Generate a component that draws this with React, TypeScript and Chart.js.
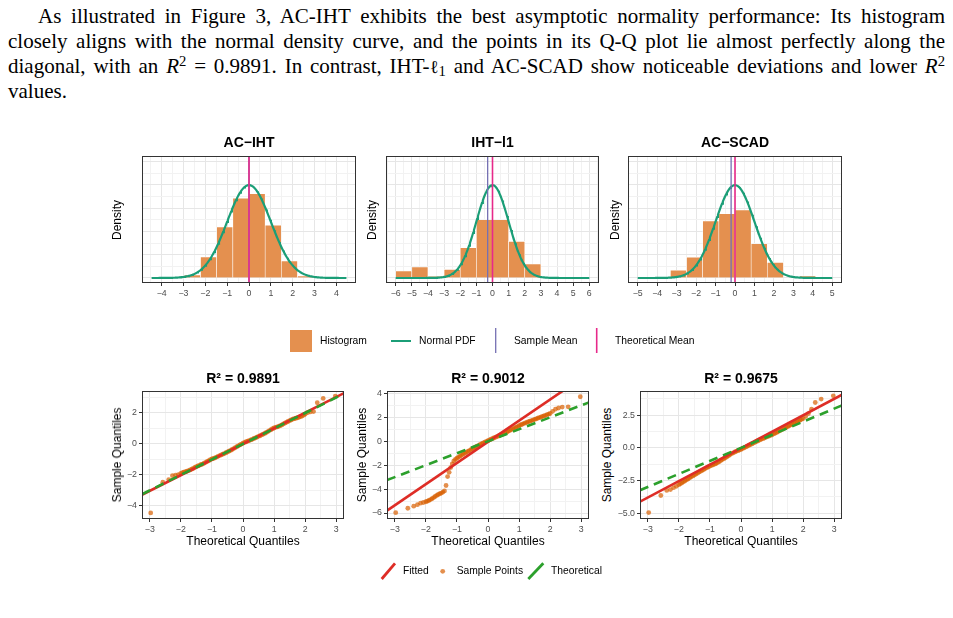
import React, { useEffect, useRef } from 'react';
import { Chart, registerables } from 'chart.js';

Chart.register(...registerables);

const SANS = '"Liberation Sans", Arial, Helvetica, sans-serif';
const SERIF = '"Liberation Serif", "Times New Roman", serif';
Chart.defaults.font.family = SANS;

// ---------------- data ----------------
const methodNames = ['AC\u2212IHT', 'IHT\u2212l1', 'AC\u2212SCAD'];
const r2Labels = ['0.9891', '0.9012', '0.9675'];

// histogram bin centres and densities
const acihtBinCenters = [-2.59, -1.85, -1.11, -0.37, 0.37, 1.11, 1.85, 2.59];
const acihtDensity = [0.013, 0.09, 0.219, 0.343, 0.362, 0.227, 0.073, 0.009];
const ihtl1BinCenters = [-5.5, -4.5, -3.5, -2.5, -1.5, -0.5, 0.5, 1.5, 2.5];
const ihtl1Density = [0.03, 0.047, 0.007, 0.037, 0.13, 0.25, 0.25, 0.157, 0.06];
const acscadBinCenters = [-2.905, -2.075, -1.245, -0.415, 0.415, 1.245, 2.075, 2.905, 3.735];
const acscadDensity = [0.033, 0.089, 0.245, 0.276, 0.292, 0.147, 0.067, 0, 0.009];

const histBinCenters = [acihtBinCenters, ihtl1BinCenters, acscadBinCenters];
const histDensities = [acihtDensity, ihtl1Density, acscadDensity];

const sampleMeans = [0.0, -0.3, -0.2];
const theoreticalMean = 0;
const theoreticalSd = 1;
const curveHalfRanges = [4.46, 6.0, 5.0];

const histXTicks = [
  [-4, -3, -2, -1, 0, 1, 2, 3, 4],
  [-6, -5, -4, -3, -2, -1, 0, 1, 2, 3, 4, 5, 6],
  [-5, -4, -3, -2, -1, 0, 1, 2, 3, 4, 5],
];
const histYTicks = [0, 0.1, 0.2, 0.3, 0.4, 0.5];

// Q-Q plot values (theoretical quantile -> sample quantile)
const theoreticalQuantiles = [
  -2.97, -2.58, -2.39, -2.27, -2.17, -2.08,
  -2.0, -1.95, -1.9, -1.85, -1.8, -1.75, -1.7, -1.65, -1.6, -1.55,
  -1.5, -1.45, -1.4, -1.35, -1.3, -1.25, -1.2, -1.15, -1.1, -1.05,
  -1.0, -0.95, -0.9, -0.85, -0.8, -0.75, -0.7, -0.65, -0.6, -0.55,
  -0.5, -0.45, -0.4, -0.35, -0.3, -0.25, -0.2, -0.15, -0.1, -0.05,
  0.0, 0.05, 0.1, 0.15, 0.2, 0.25, 0.3, 0.35, 0.4, 0.45,
  0.5, 0.55, 0.6, 0.65, 0.7, 0.75, 0.8, 0.85, 0.9, 0.95,
  1.0, 1.05, 1.1, 1.15, 1.2, 1.25, 1.3, 1.35, 1.4, 1.45,
  1.5, 1.55, 1.6, 1.65, 1.7, 1.75, 1.8, 1.85, 1.9, 1.95,
  2.0,
  2.08, 2.17, 2.27, 2.39, 2.58, 2.97,
];
const acihtSampleQ = [
  -4.46, -2.47, -2.3, -2.05, -2.02, -1.98,
  -1.9, -1.86, -1.82, -1.79, -1.76, -1.72, -1.68, -1.63, -1.58, -1.52,
  -1.47, -1.42, -1.38, -1.33, -1.3, -1.24, -1.19, -1.13, -1.08, -1.02,
  -0.97, -0.94, -0.9, -0.85, -0.8, -0.75, -0.71, -0.66, -0.62, -0.57,
  -0.52, -0.47, -0.42, -0.36, -0.3, -0.24, -0.18, -0.12, -0.06, -0.01,
  0.05, 0.1, 0.14, 0.18, 0.22, 0.26, 0.3, 0.35, 0.39, 0.44,
  0.49, 0.53, 0.58, 0.63, 0.68, 0.74, 0.8, 0.86, 0.92, 0.98,
  1.03, 1.07, 1.1, 1.14, 1.18, 1.23, 1.29, 1.35, 1.4, 1.45,
  1.5, 1.55, 1.6, 1.63, 1.66, 1.69, 1.72, 1.76, 1.8, 1.86,
  1.92,
  2.02, 2.07, 2.09, 2.66, 2.94, 3.09,
];
const ihtl1SampleQ = [
  -5.97, -5.6, -5.43, -5.3, -5.18, -5.12,
  -5.06, -5.01, -4.95, -4.88, -4.8, -4.71, -4.62, -4.53, -4.45, -4.39,
  -4.33, -4.25, -4.15, -3.7, -2.95, -2.6, -2.2, -1.9, -1.65, -1.52,
  -1.42, -1.33, -1.25, -1.16, -1.08, -1.0, -0.93, -0.85, -0.78, -0.7,
  -0.62, -0.55, -0.48, -0.41, -0.34, -0.27, -0.2, -0.13, -0.07, -0.01,
  0.05, 0.11, 0.17, 0.23, 0.29, 0.34, 0.4, 0.46, 0.52, 0.57,
  0.63, 0.69, 0.76, 0.83, 0.9, 0.97, 1.04, 1.1, 1.17, 1.23,
  1.3, 1.36, 1.42, 1.48, 1.53, 1.58, 1.63, 1.68, 1.73, 1.77,
  1.82, 1.87, 1.92, 1.97, 2.02, 2.07, 2.12, 2.17, 2.22, 2.27,
  2.32,
  2.5, 2.68, 2.78, 2.86, 2.88, 3.72,
];
const acscadSampleQ = [
  -4.96, -3.65, -3.26, -3.2, -3.05, -2.95,
  -2.82, -2.75, -2.68, -2.6, -2.52, -2.45, -2.38, -2.3, -2.22, -2.15,
  -2.08, -2.01, -1.94, -1.86, -1.8, -1.73, -1.66, -1.59, -1.52, -1.46,
  -1.4, -1.35, -1.3, -1.25, -1.2, -1.13, -1.06, -0.98, -0.9, -0.83,
  -0.76, -0.68, -0.6, -0.52, -0.44, -0.38, -0.32, -0.27, -0.22, -0.17,
  -0.12, -0.06, 0.0, 0.06, 0.12, 0.18, 0.24, 0.3, 0.36, 0.42,
  0.48, 0.54, 0.6, 0.65, 0.7, 0.75, 0.8, 0.85, 0.9, 0.95,
  1.0, 1.06, 1.12, 1.18, 1.25, 1.31, 1.38, 1.44, 1.5, 1.56,
  1.62, 1.68, 1.75, 1.81, 1.88, 1.94, 2.0, 2.06, 2.12, 2.18,
  2.24,
  2.4, 2.62, 2.96, 3.47, 3.73, 3.98,
];
const qqSample = [acihtSampleQ, ihtl1SampleQ, acscadSampleQ];
const fittedSlopes = [1.01, 1.77, 1.26];
const fittedIntercepts = [0.0, -0.05, -0.03];

const qqXTicks = [-3, -2, -1, 0, 1, 2, 3];
const qqYTicks = [
  [-4, -2, 0, 2],
  [-6, -4, -2, 0, 2, 4],
  [-5, -2.5, 0, 2.5],
];
const qqYDecimals = [0, 0, 1];

// ---------------- layout & style ----------------
const histRects = [
  { l: 142, t: 156, w: 214, h: 127 },
  { l: 386, t: 156, w: 213, h: 127 },
  { l: 628, t: 156, w: 214, h: 127 },
];
const histXHalf = [4.9, 6.6, 5.5];
const histYMin = -0.0215;
const histYMax = 0.524;
const densityLabelX = [117, 372, 615];

const qqRects = [
  { l: 142, t: 391, w: 202, h: 128 },
  { l: 387, t: 391, w: 202, h: 128 },
  { l: 640, t: 391, w: 202, h: 128 },
];
const qqXMin = -3.25;
const qqXMax = 3.25;
const qqYLimits = [
  [-4.85, 3.42],
  [-6.5, 4.2],
  [-5.45, 4.35],
];
const sampleQLabelX = [117, 362, 607];

const PAD = { top: 8, right: 10, bottom: 2, left: 2 };
const Y_W = 24;
const X_H = 20;

const GRID_MAJOR = '#E6E6E6';
const GRID_MINOR = '#F2F2F2';
const TICK_TEXT = '#4D4D4D';
const HIST_FILL = '#E4904F';
const CURVE = '#1B9E77';
const PURPLE = '#7570B3';
const PINK = '#E7298A';
const POINT = 'rgba(217,95,2,0.7)';
const RED = '#DE2D26';
const GREEN = '#2CA02C';

function fmt(v: number, dec: number) {
  const s = Math.abs(v).toFixed(dec);
  return v < -1e-9 ? '\u2212' + s : s;
}

function minorTicks(majors: number[], lo: number, hi: number) {
  const step = majors[1] - majors[0];
  const out: number[] = [];
  for (let k = -1; k < majors.length; k++) {
    const v = majors[0] + step * (k + 0.5);
    if (v > lo + 1e-9 && v < hi - 1e-9) out.push(v);
  }
  return out;
}

function axisOpts(
  majors: number[],
  lo: number,
  hi: number,
  horizontal: boolean,
  showLabels: boolean,
  dec: number
) {
  const minors = minorTicks(majors, lo, hi);
  const all = [...majors, ...minors].sort((a, b) => a - b);
  const isMajor = (v: number) => majors.some((m) => Math.abs(m - v) < 1e-9);
  return {
    type: 'linear',
    min: lo,
    max: hi,
    offset: false,
    afterBuildTicks: (s: any) => {
      s.ticks = all.map((v) => ({ value: v }));
    },
    afterFit: (s: any) => {
      if (horizontal) s.height = X_H;
      else s.width = Y_W;
    },
    ticks: {
      display: showLabels,
      autoSkip: false,
      maxRotation: 0,
      minRotation: 0,
      padding: 2,
      color: TICK_TEXT,
      font: { size: 8.8, family: SANS },
      callback: (v: any) => (isMajor(Number(v)) ? fmt(Number(v), dec) : ''),
    },
    grid: {
      offset: false,
      lineWidth: 1,
      drawTicks: showLabels,
      tickLength: 3,
      tickWidth: 1,
      color: (ctx: any) => (ctx.tick && !isMajor(ctx.tick.value) ? GRID_MINOR : GRID_MAJOR),
      tickColor: (ctx: any) => (ctx.tick && isMajor(ctx.tick.value) ? '#333333' : 'rgba(0,0,0,0)'),
    },
    border: { display: false },
  };
}

const framePlugin = {
  id: 'panelFrame',
  afterDraw(chart: any) {
    const { ctx, chartArea: a } = chart;
    ctx.save();
    ctx.strokeStyle = '#333333';
    ctx.lineWidth = 1;
    const l = Math.round(a.left) + 0.5;
    const t = Math.round(a.top) + 0.5;
    const r = Math.round(a.right) - 0.5;
    const b = Math.round(a.bottom) - 0.5;
    ctx.strokeRect(l, t, r - l, b - t);
    ctx.restore();
  },
};

const commonOptions = {
  responsive: false,
  maintainAspectRatio: false,
  animation: false,
  events: [],
  layout: { padding: PAD },
  plugins: { legend: { display: false }, tooltip: { enabled: false }, title: { display: false } },
};

function dnorm(x: number, m: number, s: number) {
  return Math.exp(-0.5 * ((x - m) / s) ** 2) / (s * Math.sqrt(2 * Math.PI));
}

function histConfig(i: number) {
  const centers = histBinCenters[i];
  const dens = histDensities[i];
  const lim = curveHalfRanges[i];
  const curve: { x: number; y: number }[] = [];
  const n = 240;
  for (let k = 0; k <= n; k++) {
    const x = -lim + (2 * lim * k) / n;
    curve.push({ x, y: dnorm(x, theoreticalMean, theoreticalSd) });
  }
  const half = histXHalf[i];
  return {
    type: 'bar',
    data: {
      datasets: [
        {
          type: 'bar',
          data: centers.map((c, k) => ({ x: c, y: dens[k] })),
          xAxisID: 'xb',
          yAxisID: 'y',
          backgroundColor: HIST_FILL,
          borderColor: '#FFFFFF',
          borderWidth: { left: 0.6, right: 0.6, top: 0.6, bottom: 0 },
          borderSkipped: false,
          grouped: false,
          barPercentage: 1,
          categoryPercentage: 1,
          order: 4,
        },
        {
          type: 'line',
          data: curve,
          xAxisID: 'x',
          yAxisID: 'y',
          borderColor: CURVE,
          borderWidth: 2.2,
          pointRadius: 0,
          tension: 0,
          fill: false,
          clip: 0,
          order: 3,
        },
        {
          type: 'line',
          data: [
            { x: sampleMeans[i], y: histYMin },
            { x: sampleMeans[i], y: histYMax },
          ],
          xAxisID: 'x',
          yAxisID: 'y',
          borderColor: PURPLE,
          borderWidth: 1.3,
          pointRadius: 0,
          clip: 0,
          order: 2,
        },
        {
          type: 'line',
          data: [
            { x: theoreticalMean, y: histYMin },
            { x: theoreticalMean, y: histYMax },
          ],
          xAxisID: 'x',
          yAxisID: 'y',
          borderColor: PINK,
          borderWidth: 1.6,
          pointRadius: 0,
          clip: 0,
          order: 1,
        },
      ],
    },
    options: {
      ...commonOptions,
      scales: {
        x: axisOpts(histXTicks[i], -half, half, true, true, 0),
        xb: {
          type: 'linear',
          display: false,
          min: -half,
          max: half,
          offset: false,
          afterBuildTicks: (s: any) => {
            s.ticks = [];
          },
        },
        y: axisOpts(histYTicks, histYMin, histYMax, false, false, 1),
      },
    },
    plugins: [framePlugin],
  };
}

function qqConfig(i: number) {
  const [ylo, yhi] = qqYLimits[i];
  const pts = theoreticalQuantiles.map((x, k) => ({ x, y: qqSample[i][k] }));
  const fitted = [qqXMin, qqXMax].map((x) => ({ x, y: fittedIntercepts[i] + fittedSlopes[i] * x }));
  const theo = [qqXMin, qqXMax].map((x) => ({ x, y: theoreticalMean + theoreticalSd * x }));
  return {
    type: 'scatter',
    data: {
      datasets: [
        {
          type: 'scatter',
          data: pts,
          pointRadius: 2.4,
          pointBackgroundColor: POINT,
          pointBorderWidth: 0,
          clip: 0,
          order: 3,
        },
        {
          type: 'line',
          data: fitted,
          borderColor: RED,
          borderWidth: 2.6,
          pointRadius: 0,
          clip: 0,
          order: 2,
        },
        {
          type: 'line',
          data: theo,
          borderColor: GREEN,
          borderWidth: 2.6,
          borderDash: [9, 6],
          pointRadius: 0,
          clip: 0,
          order: 1,
        },
      ],
    },
    options: {
      ...commonOptions,
      scales: {
        x: axisOpts(qqXTicks, qqXMin, qqXMax, true, true, 0),
        y: axisOpts(qqYTicks[i], ylo, yhi, false, true, qqYDecimals[i]),
      },
    },
    plugins: [framePlugin],
  };
}

function ChartCanvas({ rect, makeConfig }: { rect: { l: number; t: number; w: number; h: number }; makeConfig: () => any }) {
  const ref = useRef<HTMLCanvasElement>(null);
  const width = rect.w + Y_W + PAD.left + PAD.right;
  const height = rect.h + X_H + PAD.top + PAD.bottom;
  const left = rect.l - Y_W - PAD.left;
  const top = rect.t - PAD.top;
  useEffect(() => {
    const chart = new Chart(ref.current as HTMLCanvasElement, makeConfig());
    return () => chart.destroy();
  }, []);
  return (
    <canvas
      ref={ref}
      width={width}
      height={height}
      style={{ position: 'absolute', left, top, width, height }}
    />
  );
}

function Label({
  x,
  y,
  children,
  size = 12,
  bold = false,
  rotate = false,
  align = 'center',
}: {
  x: number;
  y: number;
  children: React.ReactNode;
  size?: number;
  bold?: boolean;
  rotate?: boolean;
  align?: 'center' | 'left';
}) {
  const tx = align === 'left' ? '0' : '-50%';
  return (
    <div
      style={{
        position: 'absolute',
        left: x,
        top: y,
        transform: `translate(${tx}, -50%)${rotate ? ' rotate(-90deg)' : ''}`,
        fontFamily: SANS,
        fontSize: size,
        fontWeight: bold ? 700 : 400,
        lineHeight: 1,
        whiteSpace: 'nowrap',
        color: '#000',
      }}
    >
      {children}
    </div>
  );
}

const supStyle: React.CSSProperties = {
  fontSize: '0.7em',
  lineHeight: 0,
  verticalAlign: 'baseline',
  position: 'relative',
  top: '-0.45em',
};
const subStyle: React.CSSProperties = {
  fontSize: '0.7em',
  lineHeight: 0,
  verticalAlign: 'baseline',
  position: 'relative',
  top: '0.25em',
};
const ellStyle: React.CSSProperties = {
  fontFamily: '"DejaVu Serif", serif',
  fontSize: '0.88em',
};
const atomStyle: React.CSSProperties = { display: 'inline-block', textIndent: 0 };

function paraLine(top: number, justify: boolean, indent = 0): React.CSSProperties {
  return {
    position: 'absolute',
    left: 8,
    top,
    width: 937,
    fontFamily: SERIF,
    fontSize: 21,
    lineHeight: '24.8px',
    whiteSpace: 'nowrap',
    textAlign: justify ? 'justify' : 'left',
    textAlignLast: justify ? 'justify' : 'left',
    textIndent: indent,
    color: '#000',
  } as React.CSSProperties;
}

export default function App() {
  return (
    <div style={{ position: 'absolute', left: 0, top: 0, width: 953, height: 618, background: '#fff', overflow: 'hidden' }}>
      <div style={paraLine(4, true, 30)}>
        As illustrated in Figure 3, AC-IHT exhibits the best asymptotic normality performance: Its histogram
      </div>
      <div style={paraLine(28.8, true)}>
        closely aligns with the normal density curve, and the points in its Q-Q plot lie almost perfectly along the
      </div>
      <div style={paraLine(53.6, true)}>
        diagonal, with an <span style={atomStyle}><i>R</i><span style={supStyle}>2</span></span> = 0.9891. In contrast,{' '}
        <span style={atomStyle}>IHT-<span style={ellStyle}>ℓ</span><span style={subStyle}>1</span></span> and AC-SCAD show
        noticeable deviations and lower <span style={atomStyle}><i>R</i><span style={supStyle}>2</span></span>
      </div>
      <div style={paraLine(78.6, false)}>values.</div>

      {histRects.map((r, i) => (
        <ChartCanvas key={'h' + i} rect={r} makeConfig={() => histConfig(i)} />
      ))}
      {qqRects.map((r, i) => (
        <ChartCanvas key={'q' + i} rect={r} makeConfig={() => qqConfig(i)} />
      ))}

      {histRects.map((r, i) => (
        <React.Fragment key={'ht' + i}>
          <Label x={r.l + r.w / 2} y={141.5} size={14} bold>
            {methodNames[i]}
          </Label>
          <Label x={densityLabelX[i]} y={r.t + r.h / 2} size={12} rotate>
            Density
          </Label>
        </React.Fragment>
      ))}
      {qqRects.map((r, i) => (
        <React.Fragment key={'qt' + i}>
          <Label x={r.l + r.w / 2} y={377.5} size={14} bold>
            R² = {r2Labels[i]}
          </Label>
          <Label x={r.l + r.w / 2} y={540.5} size={12}>
            Theoretical Quantiles
          </Label>
          <Label x={sampleQLabelX[i]} y={r.t + r.h / 2} size={12} rotate>
            Sample Quantiles
          </Label>
        </React.Fragment>
      ))}

      <svg width={953} height={618} style={{ position: 'absolute', left: 0, top: 0, pointerEvents: 'none' }}>
        <rect x={290} y={330} width={22} height={22} fill={HIST_FILL} />
        <line x1={391} y1={341} x2={411} y2={341} stroke={CURVE} strokeWidth={2} />
        <line x1={495.7} y1={328} x2={495.7} y2={353} stroke={PURPLE} strokeWidth={1.3} />
        <line x1={596.7} y1={328} x2={596.7} y2={353} stroke={PINK} strokeWidth={1.6} />
        <line x1={381.7} y1={579} x2={395} y2={563.3} stroke={RED} strokeWidth={2.8} />
        <circle cx={442.7} cy={571.3} r={2.4} fill={POINT} />
        <line x1={528.3} y1={579} x2={543.3} y2={563.3} stroke={GREEN} strokeWidth={2.8} />
      </svg>

      <Label x={320} y={341} size={10.3} align="left">Histogram</Label>
      <Label x={419} y={341} size={10.3} align="left">Normal PDF</Label>
      <Label x={514} y={341} size={10.3} align="left">Sample Mean</Label>
      <Label x={615} y={341} size={10.3} align="left">Theoretical Mean</Label>

      <Label x={403} y={571.3} size={10.3} align="left">Fitted</Label>
      <Label x={456.7} y={571.3} size={10.3} align="left">Sample Points</Label>
      <Label x={551} y={571.3} size={10.3} align="left">Theoretical</Label>
    </div>
  );
}
